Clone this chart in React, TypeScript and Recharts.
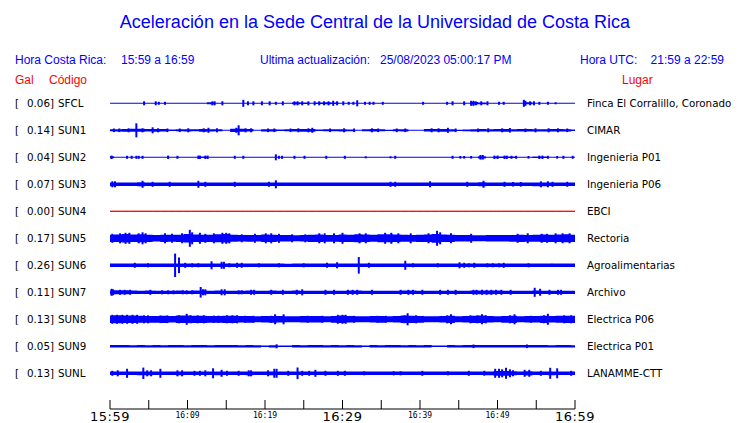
import { Area, ComposedChart, ErrorBar, Scatter, XAxis, YAxis } from 'recharts'

// station rows, top to bottom
const CODES = ['SFCL', 'SUN1', 'SUN2', 'SUN3', 'SUN4', 'SUN5', 'SUN6', 'SUN7', 'SUN8', 'SUN9', 'SUNL']
const PEAKS = ['0.06', '0.14', '0.04', '0.07', '0.00', '0.17', '0.26', '0.11', '0.13', '0.05', '0.13']
const PLACES = [
  'Finca El Corralillo, Coronado',
  'CIMAR',
  'Ingenieria P01',
  'Ingenieria P06',
  'EBCI',
  'Rectoria',
  'Agroalimentarias',
  'Archivo',
  'Electrica P06',
  'Electrica P01',
  'LANAMME-CTT',
]

// band half-height per minute (0..60), in trace units
const ENV_SFCL = [
  0.5, 0.5, 0.5, 0.5, 0.5, 0.5, 0.5, 0.5, 0.5, 0.5, 0.5, 0.5, 0.5, 1.0, 0.5, 0.5, 0.5, 0.5, 0.5, 0.5, 0.5, 0.5, 0.5,
  0.5, 1.0, 0.8, 0.5, 0.8, 1.0, 0.8, 0.5, 0.5, 0.5, 0.5, 0.5, 0.5, 0.5, 0.5, 0.5, 0.5, 0.5, 0.5, 0.5, 0.5, 0.5, 0.5,
  0.5, 1.3, 0.9, 0.5, 0.5, 0.5, 0.5, 0.5, 1.0, 0.5, 0.5, 0.5, 0.5, 0.5, 0.5,
]
const ENV_SUN1 = [
  1.0, 1.1, 1.4, 1.5, 1.5, 1.3, 1.4, 1.2, 0.8, 1.0, 1.1, 1.0, 1.4, 1.1, 1.0, 0.5, 1.6, 1.5, 1.2, 0.5, 1.1, 1.1, 0.8,
  1.0, 1.2, 1.4, 1.4, 0.8, 1.0, 1.0, 1.1, 0.9, 0.5, 1.0, 1.2, 1.0, 0.6, 1.0, 1.1, 0.5, 0.5, 1.2, 1.3, 1.4, 1.1, 0.6,
  0.9, 1.1, 1.2, 1.1, 1.3, 1.4, 1.1, 1.2, 1.2, 1.1, 1.1, 1.2, 1.2, 1.1, 0.8,
]
const ENV_SUN2 = [
  1.0, 0.5, 0.5, 0.5, 0.5, 0.5, 0.5, 0.5, 0.5, 0.5, 0.5, 0.5, 0.8, 0.5, 0.5, 0.5, 0.5, 0.5, 0.5, 0.5, 0.5, 0.5, 0.5,
  0.5, 0.5, 0.5, 0.5, 0.5, 0.5, 0.5, 0.5, 0.5, 0.5, 0.5, 0.5, 0.5, 0.5, 0.5, 0.5, 0.5, 0.5, 0.5, 0.5, 0.5, 0.5, 0.5,
  0.5, 0.5, 1.1, 0.5, 0.8, 0.8, 0.8, 0.5, 0.5, 0.8, 0.8, 0.5, 0.5, 0.5, 0.5,
]
const ENV_SUN3 = [
  1.9, 1.8, 1.7, 1.7, 2.0, 1.8, 1.7, 1.7, 1.7, 1.7, 1.7, 1.8, 1.7, 1.7, 1.7, 1.7, 1.7, 1.7, 1.7, 1.7, 1.7, 1.8, 1.7,
  1.7, 1.7, 1.7, 1.7, 1.7, 1.7, 1.7, 1.7, 1.7, 1.7, 1.7, 1.7, 1.7, 1.7, 1.7, 1.7, 1.7, 1.7, 1.7, 1.7, 1.7, 1.7, 1.7,
  1.7, 1.7, 2.0, 1.7, 1.7, 1.7, 1.7, 1.7, 1.7, 1.9, 1.9, 1.7, 1.7, 1.7, 1.7,
]
const ENV_SUN4 = [
  0, 0, 0, 0, 0, 0, 0, 0, 0, 0, 0, 0, 0, 0, 0, 0, 0, 0, 0, 0, 0, 0, 0, 0, 0, 0, 0, 0, 0, 0, 0, 0, 0, 0, 0, 0, 0, 0,
  0, 0, 0, 0, 0, 0, 0, 0, 0, 0, 0, 0, 0, 0, 0, 0, 0, 0, 0, 0, 0, 0, 0,
]
const ENV_SUN5 = [
  3.6, 3.8, 4.2, 3.8, 4.0, 3.6, 3.3, 3.6, 3.5, 3.6, 4.2, 3.8, 3.6, 3.6, 4.0, 4.2, 3.5, 3.3, 3.4, 3.2, 3.8, 3.6, 3.2,
  3.2, 3.0, 3.2, 3.6, 3.8, 3.4, 3.4, 3.8, 3.6, 4.0, 3.8, 3.5, 4.0, 4.0, 3.8, 3.5, 3.4, 3.6, 3.8, 4.4, 3.8, 3.6, 3.2,
  3.3, 3.0, 3.0, 3.2, 3.2, 3.3, 3.4, 3.6, 3.4, 3.5, 3.8, 3.6, 3.8, 4.0, 3.6,
]
const ENV_SUN6 = [
  1.7, 1.7, 1.7, 1.7, 1.7, 1.7, 1.7, 1.7, 1.7, 1.7, 1.7, 1.7, 1.7, 1.7, 1.7, 1.7, 1.7, 1.7, 1.7, 1.7, 1.7, 1.7, 1.7,
  1.6, 1.7, 1.7, 1.7, 1.7, 1.7, 1.7, 1.7, 1.7, 1.7, 1.7, 1.7, 1.7, 1.7, 1.7, 1.7, 1.7, 1.7, 1.7, 1.7, 1.7, 1.7, 1.7,
  1.7, 1.7, 1.7, 1.7, 1.7, 1.7, 1.7, 1.7, 1.7, 1.7, 1.7, 1.7, 1.7, 1.7, 1.7,
]
const ENV_SUN7 = [
  1.9, 2.0, 2.0, 1.7, 1.6, 1.7, 1.6, 1.6, 1.6, 1.7, 1.6, 1.7, 1.8, 1.6, 1.8, 1.6, 1.6, 1.6, 1.7, 1.6, 1.6, 1.7, 1.6,
  1.6, 1.7, 1.6, 1.6, 1.6, 1.6, 1.6, 1.6, 1.8, 1.7, 1.6, 1.6, 1.6, 1.6, 1.6, 1.7, 1.7, 1.6, 1.6, 1.6, 1.6, 1.6, 1.6,
  1.6, 1.8, 1.9, 1.9, 1.8, 1.6, 1.6, 1.6, 1.6, 1.7, 1.6, 1.6, 1.6, 1.6, 1.6,
]
const ENV_SUN8 = [
  3.8, 4.0, 3.8, 3.8, 3.5, 3.4, 3.4, 3.6, 3.3, 3.8, 3.8, 3.6, 3.6, 3.4, 3.4, 3.6, 3.6, 3.3, 3.4, 3.0, 3.2, 3.4, 3.3,
  3.0, 3.0, 3.3, 3.2, 3.2, 3.0, 3.4, 3.8, 3.3, 3.0, 3.0, 3.3, 3.4, 3.0, 3.2, 3.8, 3.6, 3.4, 3.0, 3.0, 3.3, 3.6, 3.0,
  3.3, 3.6, 3.8, 3.2, 3.0, 3.4, 3.6, 3.0, 3.3, 3.2, 3.6, 3.2, 3.5, 3.6, 3.6,
]
const ENV_SUN9 = [
  1.2, 1.2, 1.2, 1.1, 1.2, 1.1, 1.2, 1.1, 1.2, 1.2, 1.1, 1.2, 1.2, 1.1, 1.2, 1.2, 1.2, 1.1, 1.2, 1.1, 0.7, 1.1, 0.7,
  0.8, 1.2, 1.1, 1.2, 1.2, 1.1, 1.2, 1.1, 1.2, 1.1, 0.7, 1.2, 1.1, 1.2, 1.2, 1.1, 1.2, 1.1, 1.2, 0.7, 0.8, 1.2, 1.1,
  1.2, 1.2, 1.2, 1.2, 1.2, 1.2, 1.2, 1.3, 1.2, 1.2, 1.2, 1.1, 1.2, 1.2, 1.1,
]
const ENV_SUNL = [
  1.8, 1.8, 1.8, 1.8, 1.9, 1.9, 1.8, 1.8, 1.8, 1.9, 1.8, 1.8, 1.8, 1.8, 1.9, 1.8, 1.8, 1.8, 1.9, 1.8, 1.8, 1.9, 1.8,
  1.8, 1.8, 1.8, 1.8, 1.8, 1.8, 1.8, 1.8, 1.8, 1.8, 1.8, 1.8, 1.8, 1.8, 1.8, 1.8, 1.8, 1.8, 1.8, 1.8, 1.8, 1.8, 1.8,
  1.8, 1.8, 1.8, 1.9, 2.4, 2.4, 2.0, 1.8, 2.1, 1.8, 1.8, 1.9, 1.8, 1.8, 1.8,
]

// isolated bursts: [minute, half-height]
const SPK_SFCL = [
  [4.4, 2], [5.9, 2], [6.3, 1.5], [7.1, 1.5], [13.2, 2], [13.5, 2], [14.5, 2], [17.2, 3.5], [17.8, 2], [18.5, 2],
  [19.6, 2], [20.6, 2], [21.4, 1.5], [22.3, 2], [23.8, 2], [24.2, 2], [24.8, 2], [25.6, 2], [26.4, 2], [27, 2],
  [27.6, 2], [28.2, 2], [28.8, 2.5], [29.3, 2], [30.1, 2], [30.8, 1.5], [31.4, 1.5], [31.9, 3], [32.9, 1.5],
  [33.5, 1.5], [34, 1.5], [35.2, 1.5], [40.4, 1.5], [43.5, 1.5], [44.2, 2], [45.7, 2], [46.6, 2.5], [46.9, 2.5],
  [47.2, 2], [47.9, 2], [48.7, 2], [50.2, 1.5], [50.8, 1.5], [53.4, 3.5], [53.6, 2.5], [54.2, 2], [54.7, 2],
  [55.4, 1.5], [56.5, 1.5], [57.5, 1],
]
const SPK_SUN1 = [
  [0.5, 1.8], [1.2, 1.8], [2.4, 2], [3.4, 7], [4.2, 2], [5.5, 3], [6.2, 2], [7.4, 1.8], [9, 1.8], [10.1, 2],
  [12.1, 2], [12.7, 2.5], [13.8, 2], [16.3, 2.5], [16.6, 5], [17.5, 2], [18.2, 2], [20.4, 1.8], [21.2, 1.8],
  [23.3, 1.8], [24.3, 2], [25.6, 2], [26.1, 2.5], [28.4, 1.8], [30.2, 2], [31.5, 1.8], [33.8, 2], [34.6, 1.8],
  [37, 1.8], [38.1, 1.8], [41.5, 2], [42.4, 2], [43.6, 2.5], [44.6, 1.8], [47.5, 1.8], [48.8, 2], [50.6, 2],
  [51.6, 2.3], [53.6, 1.8], [54.9, 2], [56.6, 2], [57.8, 2], [59, 1.8],
]
const SPK_SUN2 = [
  [0.2, 1.7], [2.2, 1.5], [2.8, 1.5], [3.4, 1.5], [3.7, 1.5], [4.2, 1.5], [7.5, 1.7], [8.7, 1.5], [11.4, 1.7],
  [11.6, 1.7], [12.3, 1.7], [12.6, 1.7], [16.1, 1.5], [17.2, 1.5], [21.4, 3], [21.8, 1.5], [22.2, 1.5], [23.8, 1.5],
  [25.1, 1.5], [27.9, 1.5], [30.3, 1.5], [33, 1], [36.2, 1], [36.8, 1.5], [44.2, 1.5], [45.2, 1.3], [45.7, 1.3],
  [46.6, 1.3], [47.8, 2.3], [48.1, 2.3], [49.6, 1.7], [50, 1.7], [50.9, 1.7], [51.2, 1.7], [51.8, 1.5], [52.4, 1.5],
  [54, 1.3], [55.4, 1.7], [55.8, 1.7], [56.5, 1.5], [57.7, 1.3], [58.5, 1.5], [59.7, 1.5],
]
const SPK_SUN3 = [
  [0.3, 3], [0.65, 3], [4.2, 3.5], [5.5, 2.5], [7.7, 2.5], [11.4, 3.5], [12.3, 2.5], [16.1, 2.5], [20.5, 2.5],
  [21.4, 4], [36.2, 2.5], [36.8, 2.5], [41.3, 3], [46.1, 2.5], [48.2, 3.5], [50.9, 2.5], [52, 2.3], [53, 2.3],
  [55.6, 3], [56.5, 3], [57.1, 2.5], [59, 2.5],
]
const SPK_SUN4: number[][] = []
const SPK_SUN5 = [
  [0.3, 4.5], [1.3, 5], [2, 5.5], [2.5, 5.5], [3.7, 5], [4.2, 6], [4.6, 5], [7.1, 5], [8, 4.5], [9.3, 5], [10.3, 8.5],
  [10.6, 6], [11.6, 5.5], [12.3, 4.5], [13.4, 5], [14.5, 5.5], [15, 5.5], [15.4, 5], [17, 4], [18.7, 4.5], [20.1, 5],
  [20.8, 5], [21.8, 4.5], [23.5, 4], [25.2, 4], [27, 5], [27.7, 5], [28.9, 5], [30, 5.5], [32.2, 5], [33, 5],
  [35.5, 5.5], [36.3, 5.5], [37.2, 5], [38.8, 5], [41.1, 5], [42.2, 7.5], [42.6, 6], [44, 5], [46.6, 4.5], [52.6, 4.5],
  [53.9, 5], [55.7, 4.5], [56.4, 4.5], [57.5, 5], [58.4, 5], [59.3, 5],
]
const SPK_SUN6 = [
  [3.2, 2.5], [4.9, 2], [8.4, 11.7], [8.9, 7.8], [9.7, 2.5], [10.6, 2], [11.4, 2], [13.1, 4], [14.4, 3.5], [14.7, 3.5],
  [15.4, 2], [16.4, 2.5], [17, 2.5], [19.2, 2], [21.8, 2], [25, 2], [28, 2.5], [29.3, 3], [32.1, 8.3], [33.4, 2.5],
  [38.1, 4.5], [39.1, 2], [42.3, 2], [45.1, 3], [45.7, 2.5], [46.3, 2], [47, 2.5], [48.7, 2], [49.4, 2], [50.2, 2],
  [50.8, 2.5], [54, 2], [57, 1.5],
]
const SPK_SUN7 = [
  [0.2, 3.5], [0.4, 3], [1.3, 2.5], [1.9, 2.5], [2.6, 2.5], [5.2, 2.5], [5.8, 1.5], [6.7, 2], [7.5, 2], [8.2, 2],
  [9.4, 2], [9.9, 2], [10.6, 2], [11.7, 5.3], [12, 3], [12.3, 3], [14.4, 3], [14.8, 3], [16.6, 2], [17, 2], [18.2, 2.5],
  [18.6, 2.5], [20.8, 2.5], [22.3, 2.5], [24.1, 2.5], [24.8, 3], [27.8, 2.5], [28.9, 2.5], [30.7, 2.5], [31.3, 2.5],
  [31.9, 2.5], [33.8, 2.5], [37.5, 2.5], [38.5, 2.5], [39.1, 2.5], [40.3, 2.5], [42.6, 2.5], [43.6, 2.5], [44.6, 2.5],
  [46.9, 2.5], [47.3, 2.5], [48, 2.5], [48.6, 2.5], [49.2, 2.5], [49.8, 2.5], [50.5, 2.5], [51.7, 2.5], [54.8, 4.5],
  [55.5, 3.5], [56.7, 2.5], [57.8, 2.5], [58.2, 2.5],
]
const SPK_SUN8 = [
  [0.3, 4.5], [0.9, 4.5], [1.6, 4.5], [2.2, 4.5], [2.9, 4.5], [3.5, 4.5], [4.4, 4], [4.9, 4], [6.5, 3.8], [7.4, 3.8],
  [8.9, 4], [9.9, 5.5], [10.4, 4], [11.3, 4], [12.1, 4], [13.4, 3.7], [14, 3.7], [15.1, 4], [15.8, 4], [16.4, 4],
  [17.4, 3.5], [18.5, 3.5], [20.8, 3.5], [21.3, 5], [22.4, 5], [25.5, 3.5], [27.4, 3.5], [29.4, 4.5], [30, 4.5],
  [30.4, 4.5], [31.5, 3.5], [34.5, 3.5], [35.6, 3.5], [38, 4], [38.4, 6], [39.5, 4], [43.5, 4], [44, 5], [46.5, 4],
  [47.4, 4], [48, 5], [48.5, 4], [51.6, 4], [52.2, 5], [54.3, 3.5], [56, 4], [56.5, 5.5], [58.6, 4], [59.5, 4],
]
const SPK_SUN9 = [[21.5, 2], [46.9, 1.8], [53.8, 1.8]]
const SPK_SUNL = [
  [0.3, 2.5], [1, 3], [2.2, 4.5], [4.3, 5.7], [4.8, 3], [5.3, 3], [6.5, 4.5], [8.7, 3], [9.3, 3], [10.9, 2.5],
  [11.6, 2.5], [12.3, 3], [13.3, 5], [14.4, 3.5], [15.1, 2.5], [16.6, 2.5], [17.9, 3], [18.2, 3], [20.4, 3],
  [21.2, 4.5], [21.5, 4.5], [23, 2.5], [24.2, 5.8], [24.8, 2.5], [25.7, 2.5], [26.5, 3.5], [27.8, 2.5], [29.4, 2.5],
  [30.3, 2.5], [32.8, 2], [36.6, 2], [37.5, 2], [40.3, 2.5], [43.6, 2], [46.3, 2.5], [48.3, 2.5], [49.7, 4.5],
  [50.2, 4.5], [50.6, 4], [51.1, 5.5], [51.6, 4], [52, 3], [53.5, 3.5], [54.1, 3.5], [55.6, 2.5], [56.8, 5.5],
  [57.7, 5], [59.5, 2.5],
]

const ENVELOPES = [ENV_SFCL, ENV_SUN1, ENV_SUN2, ENV_SUN3, ENV_SUN4, ENV_SUN5, ENV_SUN6, ENV_SUN7, ENV_SUN8, ENV_SUN9, ENV_SUNL]
const SPIKES = [SPK_SFCL, SPK_SUN1, SPK_SUN2, SPK_SUN3, SPK_SUN4, SPK_SUN5, SPK_SUN6, SPK_SUN7, SPK_SUN8, SPK_SUN9, SPK_SUNL]

const TICKS = [0, 5, 10, 15, 20, 25, 30, 35, 40, 45, 50, 55, 60]
const TICK_LABELS: Record<number, string> = {
  0: '15:59',
  10: '16:09',
  20: '16:19',
  30: '16:29',
  40: '16:39',
  50: '16:49',
  60: '16:59',
}
const BIG_TICKS = [0, 30, 60]

const BLUE = '#0000ff'
const RED = '#ff0000'
const ROW_TOP = 305.7
const ROW_STEP = 27
const center = (k: number) => ROW_TOP - ROW_STEP * k

const areaData = ENV_SFCL.map((_, i) => {
  const row: Record<string, number | number[]> = { t: i }
  CODES.forEach((code, k) => {
    const a = ENVELOPES[k][i]
    row[code] = [center(k) - a, center(k) + a]
  })
  return row
})

const spikeData = SPIKES.map((list, k) => list.map(([t, e]) => ({ t, y: center(k), e })))

const HEAD = { fontFamily: '"Liberation Sans", Arial, sans-serif', fontSize: 12 }
const LABEL = { fontFamily: '"DejaVu Sans", sans-serif', fontSize: 10.3, fill: '#000' }

function TimeTick({ x, y, payload }: any) {
  const v = payload.value
  const label = TICK_LABELS[v]
  const big = BIG_TICKS.includes(v)
  return (
    <g>
      <line x1={x} x2={x} y1={y} y2={y - 9} stroke="#000" />
      {label && (
        <text
          x={x}
          y={big ? y + 12 : y + 9}
          textAnchor="middle"
          fontFamily={big ? '"DejaVu Sans", sans-serif' : '"DejaVu Sans Mono", monospace'}
          fontSize={big ? 13 : 8}
          letterSpacing={big ? 0.5 : 0}
          fill="#000"
        >
          {label}
        </text>
      )}
    </g>
  )
}

export default function App() {
  return (
    <div style={{ position: 'absolute', left: 0, top: 0, width: 740, height: 423, background: '#fff' }}>
      <ComposedChart
        width={740}
        height={423}
        data={areaData}
        margin={{ top: 89, right: 165, bottom: 0, left: 110 }}
      >
        <XAxis
          dataKey="t"
          type="number"
          domain={[0, 60]}
          ticks={TICKS}
          interval={0}
          height={14}
          tickSize={0}
          tickMargin={0}
          tickLine={false}
          axisLine={{ stroke: '#000' }}
          tick={<TimeTick />}
        />
        <YAxis type="number" domain={[0, 320]} hide allowDataOverflow />
        {CODES.map((code, k) => (
          <Area
            key={code}
            dataKey={code}
            type="step"
            fill={k === 4 ? 'none' : BLUE}
            fillOpacity={1}
            stroke={k === 4 ? RED : 'none'}
            strokeWidth={1}
            dot={false}
            activeDot={false}
            isAnimationActive={false}
          />
        ))}
        {spikeData.map((data, k) => (
          <Scatter
            key={'s' + CODES[k]}
            data={data}
            dataKey="y"
            shape={() => <g />}
            isAnimationActive={false}
          >
            <ErrorBar dataKey="e" direction="y" width={0} stroke={BLUE} strokeWidth={2} isAnimationActive={false} />
          </Scatter>
        ))}
      </ComposedChart>
      <svg width={740} height={423} style={{ position: 'absolute', left: 0, top: 0, pointerEvents: 'none' }}>
        <text x={375} y={28} textAnchor="middle" fill={BLUE} fontFamily={HEAD.fontFamily} fontSize={18}>
          Aceleración en la Sede Central de la Universidad de Costa Rica
        </text>
        <text x={15} y={64} fill={BLUE} {...HEAD}>Hora Costa Rica:</text>
        <text x={121} y={64} fill={BLUE} {...HEAD}>15:59 a 16:59</text>
        <text x={260} y={64} fill={BLUE} {...HEAD}>Ultima actualización:</text>
        <text x={380} y={64} fill={BLUE} {...HEAD}>25/08/2023 05:00:17 PM</text>
        <text x={580} y={64} fill={BLUE} {...HEAD}>Hora UTC:</text>
        <text x={724} y={64} textAnchor="end" fill={BLUE} {...HEAD}>21:59 a 22:59</text>
        <text x={15} y={84} fill={RED} {...HEAD}>Gal</text>
        <text x={49} y={84} fill={RED} {...HEAD}>Código</text>
        <text x={622} y={84} fill={RED} {...HEAD}>Lugar</text>
        {CODES.map((code, k) => (
          <g key={'l' + code}>
            <text x={15} y={107 + ROW_STEP * k} {...LABEL}>[</text>
            <text x={54} y={107 + ROW_STEP * k} textAnchor="end" {...LABEL}>{PEAKS[k] + ']'}</text>
            <text x={58} y={107 + ROW_STEP * k} {...LABEL}>{code}</text>
            <text x={587} y={107 + ROW_STEP * k} {...LABEL}>{PLACES[k]}</text>
          </g>
        ))}
      </svg>
    </div>
  )
}
